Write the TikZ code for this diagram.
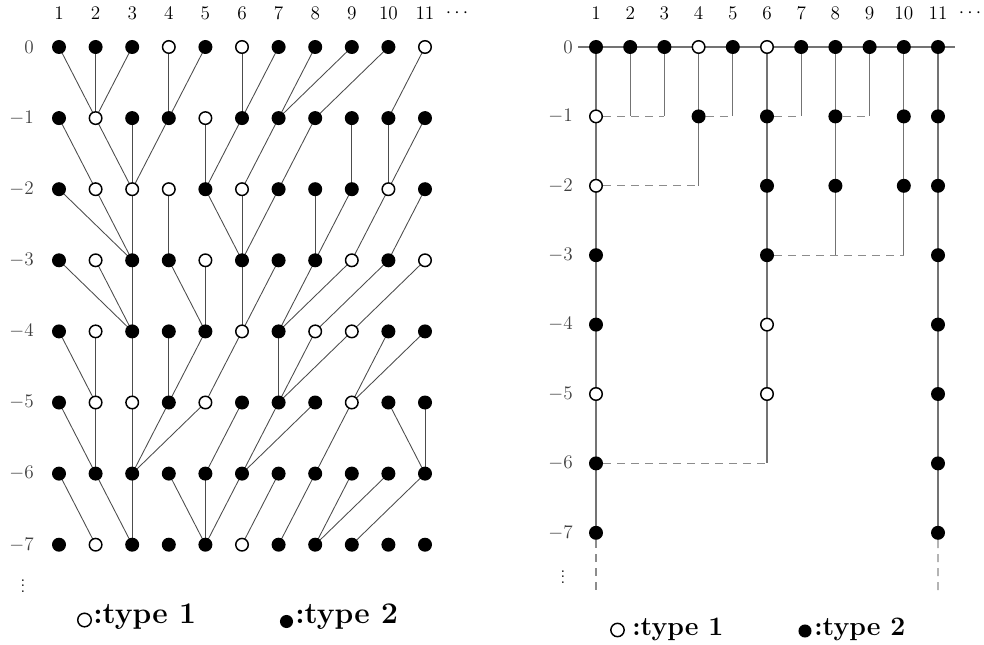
\documentclass[tikz,border=0pt]{standalone}
\usetikzlibrary{backgrounds}
\begin{document}
\begin{tikzpicture}[x=0.75pt,y=-0.75pt,
  fdot/.style={circle,fill=black,inner sep=0pt,minimum size=10.5pt},
  odot/.style={circle,draw=black,fill=white,line width=1.1pt,inner sep=0pt,minimum size=9.4pt},
  lab/.style={inner sep=0pt,font=\fontsize{15.5}{18}\selectfont},
  rowlab/.style={lab,anchor=east,text=black!75},
  ledge/.style={draw=black!70,line width=0.65pt},
  redge/.style={draw=black!55,line width=0.8pt},
  rdash/.style={draw=black!45,line width=0.8pt,dash pattern=on 6pt off 4.5pt},
  legtext/.style={inner sep=0pt,anchor=base west,font=\fontsize{22.5}{26}\selectfont\bfseries},
  rlegtext/.style={inner sep=0pt,anchor=base west,font=\fontsize{20}{24}\selectfont\bfseries}]
\useasboundingbox (0,0) rectangle (984,645);

% ---------------- left panel ----------------
\foreach \c in {1,...,11} \node[lab] (LH-\c) at ({59+(\c-1)*36.6},13) {$\c$};
\node[lab] (LHd) at (457,13) {$\cdots$};
\foreach \r in {0,...,7} \node[rowlab] (LR-\r) at (34,{47+\r*71.1}) {$\ifnum\r=0 0\else -\r\fi$};
\node[lab] (LVd) at (23,582) {$\vdots$};

\foreach \r/\types in {0/{f,f,f,o,f,o,f,f,f,f,o}, 1/{f,o,f,f,o,f,f,f,f,f,f},
  2/{f,o,o,o,f,o,f,f,f,o,f}, 3/{f,o,f,f,o,f,f,f,o,f,o}, 4/{f,o,f,f,f,o,f,o,o,f,f},
  5/{f,o,o,f,o,f,f,f,o,f,f}, 6/{f,f,f,f,f,f,f,f,f,f,f}, 7/{f,o,f,f,f,o,f,f,f,f,f}}{
  \foreach \t [count=\c] in \types {
    \if o\t \node[odot] (L-\r-\c) at ({59+(\c-1)*36.6},{47+\r*71.1}) {};
    \else \node[fdot] (L-\r-\c) at ({59+(\c-1)*36.6},{47+\r*71.1}) {};\fi
  }
}
\begin{scope}[on background layer]
\foreach \r/\targets in {0/{2,2,2,4,4,6,6,7,7,8,10}, 1/{2,3,3,3,5,5,6,7,9,10,10},
  2/{3,3,3,4,6,6,6,8,8,9,10}, 3/{3,3,3,5,5,6,6,7,7,8,9}, 4/{2,2,3,4,4,5,7,7,7,9,9},
  5/{2,2,3,3,3,5,6,6,8,11,11}, 6/{2,3,3,5,5,5,6,7,8,8,9}}{
  \pgfmathtruncatemacro\rr{\r+1}
  \foreach \d [count=\c] in \targets { \draw[ledge] (L-\r-\c.center) -- (L-\rr-\d.center); }
}
\end{scope}

% legend left
\node[odot,minimum size=10.2pt] (LG1c) at (84.5,620) {};
\node[legtext] (LG1t) at (93,623) {:type 1};
\node[fdot,minimum size=9.8pt] (LG2c) at (286.5,621.5) {};
\node[legtext] (LG2t) at (295,623) {:type 2};

% ---------------- right panel ----------------
\foreach \c in {1,...,11} \node[lab] (RH-\c) at ({596+(\c-1)*34.2},13) {$\c$};
\node[lab] (RHd) at (970,13) {$\cdots$};
\foreach \r in {0,...,7} \node[rowlab] (RR-\r) at (573,{47+\r*69.4}) {$\ifnum\r=0 0\else -\r\fi$};
\node[lab] (RVd) at (563,573) {$\vdots$};

\foreach \t [count=\c] in {f,f,f,o,f,o,f,f,f,f,f} {
  \if o\t \node[odot] (R-0-\c) at ({596+(\c-1)*34.2},47) {};
  \else \node[fdot] (R-0-\c) at ({596+(\c-1)*34.2},47) {};\fi
}
\foreach \r/\c/\t in {1/1/o, 1/4/f, 1/6/f, 1/8/f, 1/10/f, 1/11/f,
  2/1/o, 2/6/f, 2/8/f, 2/10/f, 2/11/f, 3/1/f, 3/6/f, 3/11/f,
  4/1/f, 4/6/o, 4/11/f, 5/1/o, 5/6/o, 5/11/f, 6/1/f, 6/11/f, 7/1/f, 7/11/f}{
  \if o\t \node[odot] (R-\r-\c) at ({596+(\c-1)*34.2},{47+\r*69.4}) {};
  \else \node[fdot] (R-\r-\c) at ({596+(\c-1)*34.2},{47+\r*69.4}) {};\fi
}
\foreach \r/\c in {1/2, 1/3, 1/5, 1/7, 1/9, 2/4, 3/8, 3/10, 6/6}
  \coordinate (C-\r-\c) at ({596+(\c-1)*34.2},{47+\r*69.4});
\coordinate (A-l) at (578,47);
\coordinate (A-r) at (955,47);
\coordinate (E-1) at (596,590);
\coordinate (E-11) at (938,594);

\begin{scope}[on background layer]
\draw[redge] (A-l) -- (A-r);
\draw[redge] (R-0-1.center) -- (R-7-1.center);
\draw[redge] (R-0-2.center) -- (C-1-2);
\draw[redge] (R-0-3.center) -- (C-1-3);
\draw[redge] (R-0-4.center) -- (C-2-4);
\draw[redge] (R-0-5.center) -- (C-1-5);
\draw[redge] (R-0-6.center) -- (C-6-6);
\draw[redge] (R-0-7.center) -- (C-1-7);
\draw[redge] (R-0-8.center) -- (C-3-8);
\draw[redge] (R-0-9.center) -- (C-1-9);
\draw[redge] (R-0-10.center) -- (C-3-10);
\draw[redge] (R-0-11.center) -- (R-7-11.center);
\draw[rdash] (R-1-1) -- (C-1-3);
\draw[rdash] (R-1-4) -- (C-1-5);
\draw[rdash] (R-1-6) -- (C-1-7);
\draw[rdash] (R-1-8) -- (C-1-9);
\draw[rdash] (R-2-1) -- (C-2-4);
\draw[rdash] (R-3-6) -- (C-3-10);
\draw[rdash] (R-6-1) -- (C-6-6);
\draw[rdash] (R-7-1) -- (E-1);
\draw[rdash] (R-7-11) -- (E-11);
\end{scope}

% legend right
\node[odot,minimum size=10pt] (RG1c) at (617.5,630) {};
\node[rlegtext] (RG1t) at (632,635) {:type 1};
\node[fdot,minimum size=9.8pt] (RG2c) at (805,631) {};
\node[rlegtext] (RG2t) at (814,635) {:type 2};
\end{tikzpicture}
\end{document}
